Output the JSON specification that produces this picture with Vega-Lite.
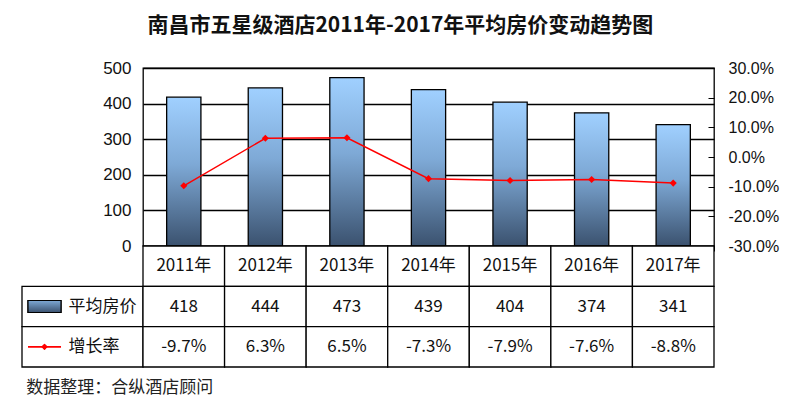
{
  "$schema": "https://vega.github.io/schema/vega-lite/v6.json",
  "background": "white",
  "padding": {"left": 21, "top": 15, "right": 5, "bottom": 5},
  "title": {
    "text": "南昌市五星级酒店2011年-2017年平均房价变动趋势图",
    "font": "Noto Sans CJK SC",
    "fontSize": 21,
    "fontWeight": "bold",
    "color": "#111111",
    "anchor": "middle",
    "offset": 22
  },
  "datasets": {
    "hotel": [
      {"year": "2011年", "price": 418, "growth": -0.097},
      {"year": "2012年", "price": 444, "growth": 0.063},
      {"year": "2013年", "price": 473, "growth": 0.065},
      {"year": "2014年", "price": 439, "growth": -0.073},
      {"year": "2015年", "price": 404, "growth": -0.079},
      {"year": "2016年", "price": 374, "growth": -0.076},
      {"year": "2017年", "price": 341, "growth": -0.088}
    ],
    "legend": [
      {"row": "平均房价"},
      {"row": "增长率"}
    ]
  },
  "columns": 2,
  "spacing": 0,
  "bounds": "flush",
  "concat": [
    {
      "width": 121,
      "height": 178,
      "data": {"values": [{}]},
      "mark": {"type": "text"},
      "encoding": {"text": {"value": ""}}
    },
    {
      "width": 571,
      "height": 178,
      "data": {"name": "hotel"},
      "view": {"stroke": "#000000", "strokeWidth": 1.3},
      "encoding": {
        "x": {
          "field": "year",
          "type": "nominal",
          "sort": null,
          "scale": {"paddingInner": 0, "paddingOuter": 0},
          "axis": {
            "labels": false,
            "title": null,
            "domain": false,
            "ticks": true,
            "tickBand": "extent",
            "tickSize": 5,
            "tickColor": "#000000"
          }
        }
      },
      "layer": [
        {
          "mark": {
            "type": "bar",
            "width": {"band": 0.42},
            "stroke": "#000000",
            "strokeWidth": 1.3,
            "fill": {
              "gradient": "linear",
              "x1": 0, "y1": 0, "x2": 0, "y2": 1,
              "stops": [
                {"offset": 0, "color": "#a0d0ff"},
                {"offset": 0.45, "color": "#7ea9d6"},
                {"offset": 1, "color": "#3b526f"}
              ]
            }
          },
          "encoding": {
            "y": {
              "field": "price",
              "type": "quantitative",
              "scale": {"domain": [0, 500]},
              "axis": {
                "title": null,
                "values": [0, 100, 200, 300, 400, 500],
                "domain": false,
                "ticks": false,
                "grid": true,
                "gridColor": "#000000",
                "gridWidth": 1.3,
                "labelFont": "Liberation Sans",
                "labelFontSize": 17,
                "labelColor": "#111111",
                "labelPadding": 12
              }
            }
          }
        },
        {
          "mark": {"type": "line", "color": "#ff0000", "strokeWidth": 1.5},
          "encoding": {
            "y": {
              "field": "growth",
              "type": "quantitative",
              "scale": {"domain": [-0.3, 0.3]},
              "axis": {
                "orient": "right",
                "title": null,
                "format": ".1%",
                "labelExpr": "replace(datum.label, '−', '-')",
                "values": [-0.3, -0.2, -0.1, 0, 0.1, 0.2, 0.3],
                "grid": false,
                "domain": false,
                "ticks": true,
                "tickSize": -6,
                "tickColor": "#000000",
                "labelFont": "Liberation Sans",
                "labelFontSize": 16,
                "labelColor": "#111111",
                "labelPadding": 20
              }
            }
          }
        },
        {
          "mark": {"type": "point", "shape": "diamond", "filled": true, "color": "#ff0000", "size": 50, "opacity": 1},
          "encoding": {
            "y": {"field": "growth", "type": "quantitative", "scale": {"domain": [-0.3, 0.3]}, "axis": null}
          }
        }
      ],
      "resolve": {"scale": {"y": "independent"}, "axis": {"y": "independent"}}
    },
    {
      "width": 121,
      "height": 121,
      "data": {"name": "legend"},
      "title": {
        "text": "数据整理：合纵酒店顾问",
        "orient": "bottom",
        "anchor": "start",
        "font": "Noto Sans CJK SC",
        "fontSize": 17,
        "fontWeight": "normal",
        "color": "#222222",
        "offset": 12,
        "dx": 5
      },
      "layer": [
        {
          "mark": {"type": "rect", "fill": "white", "stroke": "#000000", "strokeWidth": 1.3},
          "encoding": {
            "y": {
              "field": "row",
              "type": "nominal",
              "scale": {"domain": ["年份", "平均房价", "增长率"], "paddingInner": 0, "paddingOuter": 0},
              "axis": null
            },
            "x": {"value": 0},
            "x2": {"value": "width"}
          }
        },
        {
          "mark": {
            "type": "bar",
            "width": 33,
            "height": 12,
            "stroke": "#000000",
            "strokeWidth": 1.2,
            "fill": {
              "gradient": "linear",
              "x1": 0, "y1": 0, "x2": 0, "y2": 1,
              "stops": [
                {"offset": 0, "color": "#7ea9d6"},
                {"offset": 1, "color": "#3b526f"}
              ]
            }
          },
          "encoding": {
            "x": {
              "datum": "符号",
              "type": "nominal",
              "scale": {"domain": ["符号", "名称"], "paddingInner": 0, "paddingOuter": 0.344, "align": 0},
              "axis": null
            },
            "y": {"datum": "平均房价", "type": "nominal"}
          }
        },
        {
          "mark": {"type": "bar", "width": 33, "height": 1.5, "fill": "#ff0000"},
          "encoding": {
            "x": {"datum": "符号", "type": "nominal"},
            "y": {"datum": "增长率", "type": "nominal"}
          }
        },
        {
          "mark": {"type": "point", "shape": "diamond", "filled": true, "color": "#ff0000", "size": 40, "opacity": 1},
          "encoding": {
            "x": {"datum": "符号", "type": "nominal"},
            "y": {"datum": "增长率", "type": "nominal"}
          }
        },
        {
          "mark": {"type": "text", "align": "left", "dx": -21, "font": "Noto Sans CJK SC", "fontSize": 17, "color": "#111111"},
          "encoding": {
            "x": {"datum": "名称", "type": "nominal"},
            "y": {"field": "row", "type": "nominal"},
            "text": {"field": "row"}
          }
        }
      ]
    },
    {
      "width": 571,
      "height": 121,
      "data": {"name": "hotel"},
      "encoding": {
        "x": {
          "field": "year",
          "type": "nominal",
          "sort": null,
          "scale": {"paddingInner": 0, "paddingOuter": 0},
          "axis": null
        }
      },
      "layer": [
        {
          "mark": {"type": "rect", "fill": "white", "stroke": "#000000", "strokeWidth": 1.3},
          "encoding": {
            "y": {"datum": "年份", "type": "nominal", "scale": {"domain": ["年份", "平均房价", "增长率"], "paddingInner": 0, "paddingOuter": 0}, "axis": null}
          }
        },
        {
          "mark": {"type": "rect", "fill": "white", "stroke": "#000000", "strokeWidth": 1.3},
          "encoding": {"y": {"datum": "平均房价", "type": "nominal"}}
        },
        {
          "mark": {"type": "rect", "fill": "white", "stroke": "#000000", "strokeWidth": 1.3},
          "encoding": {"y": {"datum": "增长率", "type": "nominal"}}
        },
        {
          "mark": {"type": "text", "font": "Noto Sans CJK SC", "fontSize": 17, "color": "#111111"},
          "encoding": {
            "y": {"datum": "年份", "type": "nominal"},
            "text": {"field": "year"}
          }
        },
        {
          "mark": {"type": "text", "font": "Noto Sans CJK SC", "fontSize": 17, "color": "#111111"},
          "encoding": {
            "y": {"datum": "平均房价", "type": "nominal"},
            "text": {"field": "price", "type": "quantitative", "format": "d"}
          }
        },
        {
          "mark": {
            "type": "text",
            "font": "Noto Sans CJK SC",
            "fontSize": 17,
            "color": "#111111",
            "text": {"expr": "replace(format(datum.growth, '.1%'), '−', '-')"}
          },
          "encoding": {
            "y": {"datum": "增长率", "type": "nominal"}
          }
        }
      ]
    }
  ],
  "config": {
    "view": {"stroke": null},
    "axis": {"labelFont": "Liberation Sans"}
  }
}
